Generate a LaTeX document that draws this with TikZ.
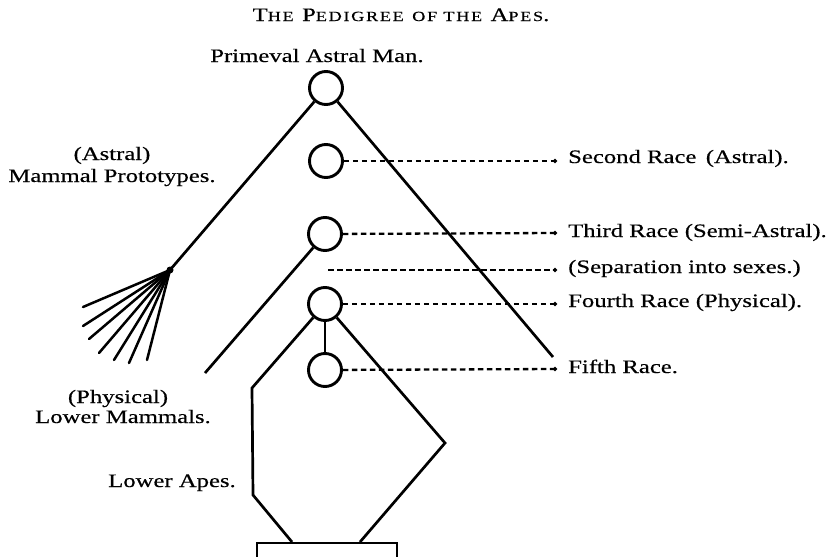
\documentclass[tikz,border=0pt]{standalone}
\usepackage{fontspec}
\setmainfont[FakeStretch=1.3,FakeBold=0.4]{Liberation Serif}
\newfontfamily\titlefont[FakeStretch=1.3,FakeBold=0.4,LetterSpace=12]{Liberation Serif}
\usetikzlibrary{arrows.meta}
\newcommand\smcp[1]{{\fontsize{14}{16}\selectfont #1}}
\begin{document}
\begin{tikzpicture}[x=1pt,y=-1pt,
  ring/.style={circle,draw,line width=2.9pt,minimum size=33pt,inner sep=0pt},
  branch/.style={line width=2.7pt},
  ray/.style={line width=2.5pt,line cap=round},
  lead/.style={line width=2.3pt,dash pattern=on 5.5pt off 3.5pt,-{Circle[length=4pt]}},
  lbl/.style={font=\fontsize{19}{22}\selectfont,inner sep=0pt}]
\useasboundingbox (0,0) rectangle (839,557);
\fill[white] (0,0) rectangle (839,557);

% title
\node[inner sep=0pt,anchor=base,font=\titlefont\fontsize{19}{22}\selectfont] (title) at (401,21)
  {T\smcp{HE} P\smcp{EDIGREE} \smcp{OF THE} A\smcp{PES}.};

% circles
\node[ring] (c1) at (326,88) {};
\node[ring] (c2) at (326,161) {};
\node[ring] (c3) at (325,234) {};
\node[ring] (c4) at (325,304) {};
\node[ring] (c5) at (325,370) {};

% labels
\node[lbl,anchor=base] (lprim) at (317,62) {Primeval Astral Man.};
\node[lbl,anchor=base] (lastral) at (112,160) {(Astral)};
\node[lbl,anchor=base] (lproto) at (112,182) {Mammal Prototypes.};
\node[lbl,anchor=base] (lphys) at (118,403) {(Physical)};
\node[lbl,anchor=base] (lmam) at (123,423) {Lower Mammals.};
\node[lbl,anchor=base east] (lapes) at (236,487) {Lower Apes.};
\node[lbl,anchor=base west] (t2) at (568,163) {Second Race\, (Astral).};
\node[lbl,anchor=base west] (t3) at (568,237) {Third Race (Semi-Astral).};
\node[lbl,anchor=base west] (tsep) at (568,273) {(Separation into sexes.)};
\node[lbl,anchor=base west] (t4) at (568,307) {Fourth Race (Physical).};
\node[lbl,anchor=base west] (t5) at (568,373) {Fifth Race.};

% free ends
\coordinate (apex) at (170,270);
\coordinate (fifth) at (553,357);
\coordinate (lowmam) at (205,373);
\coordinate (hl1) at (252,388);
\coordinate (hl2) at (253,495);
\coordinate (hl3) at (292,542);
\coordinate (hr1) at (445,443);
\coordinate (hr2) at (360,542);
\coordinate (rb1) at (257,557);
\coordinate (rt1) at (257,543);
\coordinate (rt2) at (397,543);
\coordinate (rb2) at (397,557);
\coordinate (d2) at (557,161);
\coordinate (d3) at (557,233);
\coordinate (sepa) at (328,270);
\coordinate (dsep) at (557,270);
\coordinate (d4) at (557,304);
\coordinate (d5) at (557,369);

% branches
\draw[branch] (c1) -- (apex);
\draw[branch] (c1) -- (fifth);
\draw[branch] (c3) -- (lowmam);
\draw[branch] (c4) -- (c5);
\draw[branch,line join=miter] (c4) -- (hl1) -- (hl2) -- (hl3);
\draw[branch,line join=miter] (c4) -- (hr1) -- (hr2);
\draw[branch,line join=miter] (rb1) -- (rt1) -- (rt2) -- (rb2);

% fan
\foreach \n/\p in {f1/{83,307},f2/{83,326},f3/{89,339},f4/{99,353},f5/{114,360},f6/{129,363},f7/{147,360}}{
  \coordinate (\n) at (\p);
  \draw[ray] (apex) -- (\n);
}
\fill (apex) circle (3.5pt);

% dashed leaders
\draw[lead] (c2) -- (d2);
\draw[lead] (c3) -- (d3);
\draw[lead] (sepa) -- (dsep);
\draw[lead] (c4) -- (d4);
\draw[lead] (c5) -- (d5);
\end{tikzpicture}
\end{document}
